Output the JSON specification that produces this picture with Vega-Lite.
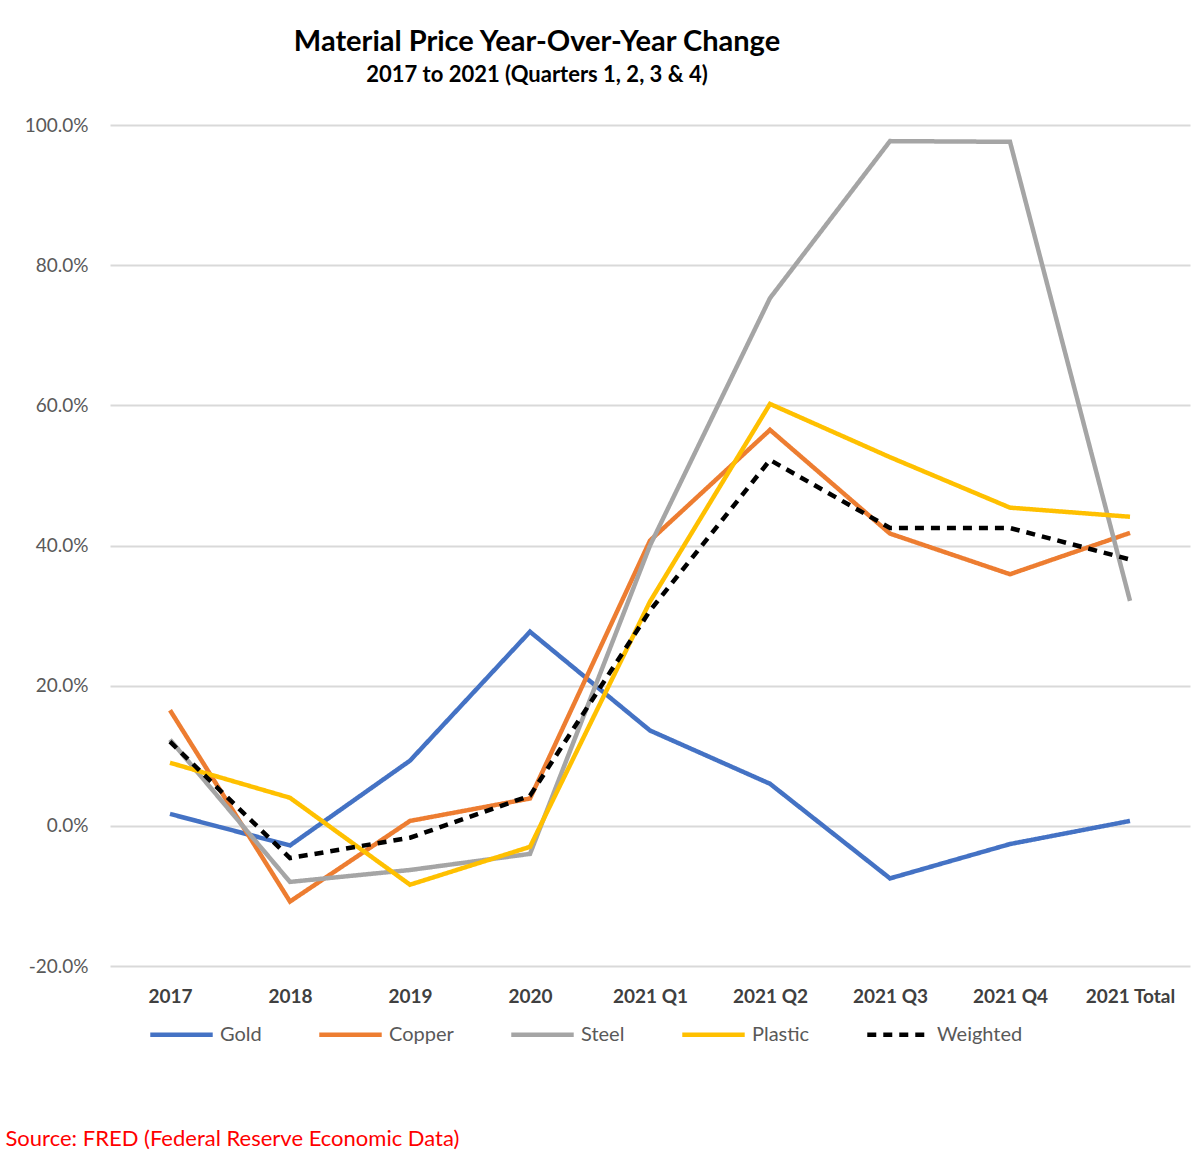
{
  "$schema": "https://vega.github.io/schema/vega-lite/v6.json",
  "autosize": {"type": "none"},
  "width": 1080,
  "height": 841,
  "padding": {"left": 110, "top": 125, "right": 10, "bottom": 197},
  "background": "white",
  "config": {"view": {"stroke": null}, "font": "Lato"},
  "title": {
    "text": "Material Price Year-Over-Year Change",
    "subtitle": "2017 to 2021 (Quarters 1, 2, 3 & 4)",
    "anchor": "middle",
    "frame": "group",
    "dx": -113,
    "offset": 30,
    "font": "Lato",
    "fontSize": 29,
    "fontWeight": "bold",
    "color": "#000000",
    "subtitleFont": "Lato",
    "subtitleFontSize": 22,
    "subtitleFontWeight": "bold",
    "subtitleColor": "#000000",
    "subtitlePadding": 8
  },
  "data": {
    "values": [
      {"period": "2017", "material": "Gold", "change": 1.7},
      {"period": "2018", "material": "Gold", "change": -2.8},
      {"period": "2019", "material": "Gold", "change": 9.3},
      {"period": "2020", "material": "Gold", "change": 27.7},
      {"period": "2021 Q1", "material": "Gold", "change": 13.6},
      {"period": "2021 Q2", "material": "Gold", "change": 6.0},
      {"period": "2021 Q3", "material": "Gold", "change": -7.5},
      {"period": "2021 Q4", "material": "Gold", "change": -2.6},
      {"period": "2021 Total", "material": "Gold", "change": 0.7},
      {"period": "2017", "material": "Copper", "change": 16.5},
      {"period": "2018", "material": "Copper", "change": -10.8},
      {"period": "2019", "material": "Copper", "change": 0.7},
      {"period": "2020", "material": "Copper", "change": 3.9},
      {"period": "2021 Q1", "material": "Copper", "change": 40.7},
      {"period": "2021 Q2", "material": "Copper", "change": 56.5},
      {"period": "2021 Q3", "material": "Copper", "change": 41.7},
      {"period": "2021 Q4", "material": "Copper", "change": 35.9},
      {"period": "2021 Total", "material": "Copper", "change": 41.8},
      {"period": "2017", "material": "Steel", "change": 12.3},
      {"period": "2018", "material": "Steel", "change": -8.0},
      {"period": "2019", "material": "Steel", "change": -6.3},
      {"period": "2020", "material": "Steel", "change": -4.0},
      {"period": "2021 Q1", "material": "Steel", "change": 40.0},
      {"period": "2021 Q2", "material": "Steel", "change": 75.3},
      {"period": "2021 Q3", "material": "Steel", "change": 97.7},
      {"period": "2021 Q4", "material": "Steel", "change": 97.6},
      {"period": "2021 Total", "material": "Steel", "change": 32.1},
      {"period": "2017", "material": "Plastic", "change": 9.0},
      {"period": "2018", "material": "Plastic", "change": 4.0},
      {"period": "2019", "material": "Plastic", "change": -8.4},
      {"period": "2020", "material": "Plastic", "change": -3.0},
      {"period": "2021 Q1", "material": "Plastic", "change": 32.0},
      {"period": "2021 Q2", "material": "Plastic", "change": 60.2},
      {"period": "2021 Q3", "material": "Plastic", "change": 52.6},
      {"period": "2021 Q4", "material": "Plastic", "change": 45.4},
      {"period": "2021 Total", "material": "Plastic", "change": 44.1},
      {"period": "2017", "material": "Weighted", "change": 12.0},
      {"period": "2018", "material": "Weighted", "change": -4.6},
      {"period": "2019", "material": "Weighted", "change": -1.7},
      {"period": "2020", "material": "Weighted", "change": 4.3},
      {"period": "2021 Q1", "material": "Weighted", "change": 30.7},
      {"period": "2021 Q2", "material": "Weighted", "change": 52.2},
      {"period": "2021 Q3", "material": "Weighted", "change": 42.5},
      {"period": "2021 Q4", "material": "Weighted", "change": 42.5},
      {"period": "2021 Total", "material": "Weighted", "change": 38.0}
    ]
  },
  "mark": {"type": "line", "strokeWidth": 4.5, "strokeCap": "butt", "strokeJoin": "miter"},
  "encoding": {
    "x": {
      "field": "period",
      "type": "nominal",
      "sort": ["2017", "2018", "2019", "2020", "2021 Q1", "2021 Q2", "2021 Q3", "2021 Q4", "2021 Total"],
      "scale": {"type": "point", "padding": 0.5},
      "axis": {
        "labelAngle": 0,
        "domain": false,
        "ticks": false,
        "grid": false,
        "labelFont": "Lato",
        "labelFontSize": 19,
        "labelFontWeight": "bold",
        "labelColor": "#404040",
        "labelPadding": 21,
        "title": "Source: FRED (Federal Reserve Economic Data)",
        "titleColor": "#ff0000",
        "titleFont": "Lato",
        "titleFontSize": 22,
        "titleFontWeight": "normal",
        "titleAnchor": "start",
        "titleAlign": "left",
        "titleBaseline": "middle",
        "titleX": -105,
        "titleY": 172
      }
    },
    "y": {
      "field": "change",
      "type": "quantitative",
      "scale": {"domain": [-20, 100], "nice": false, "zero": false},
      "axis": {
        "values": [-20, 0, 20, 40, 60, 80, 100],
        "labelExpr": "(datum.value < 0 ? '-' : '') + format(abs(datum.value), '.1f') + '%'",
        "domain": false,
        "ticks": false,
        "grid": true,
        "gridColor": "#d9d9d9",
        "gridWidth": 2,
        "labelFont": "Lato",
        "labelFontSize": 19,
        "labelColor": "#595959",
        "labelPadding": 22,
        "title": null
      }
    },
    "color": {
      "field": "material",
      "type": "nominal",
      "sort": ["Gold", "Copper", "Steel", "Plastic", "Weighted"],
      "scale": {
        "domain": ["Gold", "Copper", "Steel", "Plastic", "Weighted"],
        "range": ["#4472C4", "#ED7D31", "#A5A5A5", "#FFC000", "#000000"]
      },
      "legend": {
        "title": null,
        "orient": "none",
        "direction": "horizontal",
        "legendX": 38,
        "legendY": 876,
        "symbolType": "stroke",
        "symbolSize": 3900,
        "symbolStrokeWidth": 4.5,
        "labelFont": "Lato",
        "labelFontSize": 20,
        "labelColor": "#595959",
        "labelOffset": 5,
        "columnPadding": 48
      }
    },
    "strokeDash": {
      "field": "material",
      "type": "nominal",
      "sort": ["Gold", "Copper", "Steel", "Plastic", "Weighted"],
      "scale": {
        "domain": ["Gold", "Copper", "Steel", "Plastic", "Weighted"],
        "range": [[1, 0], [1, 0], [1, 0], [1, 0], [9, 7]]
      },
      "legend": {
        "title": null,
        "orient": "none",
        "direction": "horizontal",
        "legendX": 38,
        "legendY": 876,
        "symbolType": "stroke",
        "symbolSize": 3900,
        "symbolStrokeWidth": 4.5,
        "labelFont": "Lato",
        "labelFontSize": 20,
        "labelColor": "#595959",
        "labelOffset": 5,
        "columnPadding": 48
      }
    },
    "strokeWidth": {
      "field": "material",
      "type": "nominal",
      "scale": {
        "domain": ["Gold", "Copper", "Steel", "Plastic", "Weighted"],
        "range": [4.5, 4.5, 4.5, 4.5, 3]
      },
      "legend": null
    }
  }
}
